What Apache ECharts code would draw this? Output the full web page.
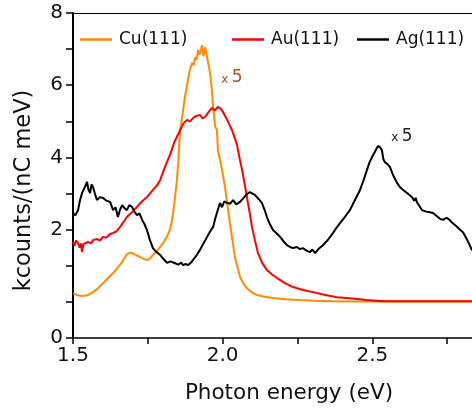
<!DOCTYPE html>
<html>
<head>
<meta charset="utf-8">
<script src="https://cdn.jsdelivr.net/npm/echarts@6/dist/echarts.min.js"></script>
<style>
  html, body { margin: 0; padding: 0; background: #fff; }
  #chart { width: 472px; height: 409px; }
</style>
</head>
<body>
<div id="chart"></div>
<script>
// Photon emission spectra, [photon energy (eV), kcounts/(nC meV)]
const cuSpectrum = [
  [1.500, 0.24], [1.517, 0.18], [1.533, 0.16], [1.550, 0.19], [1.567, 0.27], [1.584, 0.38],
  [1.600, 0.52], [1.617, 0.66], [1.634, 0.80], [1.650, 0.95], [1.664, 1.10], [1.680, 1.32],
  [1.690, 1.36], [1.697, 1.35], [1.710, 1.30], [1.724, 1.24], [1.736, 1.19], [1.747, 1.16],
  [1.757, 1.20], [1.767, 1.30], [1.780, 1.40], [1.791, 1.52], [1.803, 1.65], [1.814, 1.80],
  [1.824, 2.00], [1.831, 2.27], [1.836, 2.55], [1.841, 2.90], [1.847, 3.37], [1.852, 3.90],
  [1.858, 4.76], [1.866, 5.20], [1.874, 5.67], [1.880, 5.95], [1.884, 6.14], [1.890, 6.40],
  [1.898, 6.62], [1.903, 6.55], [1.908, 6.78], [1.913, 6.70], [1.918, 6.98], [1.924, 6.85],
  [1.931, 7.11], [1.936, 6.80], [1.941, 7.05], [1.948, 6.78], [1.953, 6.55], [1.958, 6.34],
  [1.964, 5.87], [1.968, 5.40], [1.975, 4.85], [1.981, 4.76], [1.984, 4.20], [1.991, 3.95],
  [1.998, 3.65], [2.008, 3.18], [2.018, 2.54], [2.031, 1.80], [2.041, 1.24], [2.050, 0.95],
  [2.058, 0.69], [2.070, 0.50], [2.081, 0.38], [2.098, 0.26], [2.115, 0.19], [2.140, 0.14],
  [2.168, 0.11], [2.210, 0.07], [2.258, 0.05], [2.310, 0.03], [2.369, 0.02], [2.450, 0.01],
  [2.550, 0.01], [2.650, 0.01], [2.750, 0.01], [2.833, 0.01]
];

const auSpectrum = [
  [1.500, 1.66], [1.505, 1.55], [1.510, 1.70], [1.517, 1.63], [1.522, 1.50], [1.527, 1.62],
  [1.530, 1.38], [1.535, 1.60], [1.540, 1.57], [1.550, 1.66], [1.560, 1.62], [1.567, 1.71],
  [1.580, 1.74], [1.590, 1.70], [1.600, 1.80], [1.612, 1.78], [1.624, 1.88], [1.634, 1.91],
  [1.645, 1.95], [1.657, 2.07], [1.668, 2.20], [1.680, 2.35], [1.697, 2.48], [1.714, 2.63],
  [1.730, 2.78], [1.747, 2.90], [1.757, 3.00], [1.767, 3.10], [1.780, 3.22], [1.791, 3.37],
  [1.808, 3.75], [1.824, 4.07], [1.840, 4.45], [1.858, 4.76], [1.870, 4.95], [1.881, 5.04],
  [1.891, 5.00], [1.901, 5.09], [1.912, 5.15], [1.924, 5.18], [1.933, 5.08], [1.941, 5.12],
  [1.952, 5.25], [1.964, 5.37], [1.974, 5.30], [1.984, 5.40], [1.993, 5.35], [2.001, 5.26],
  [2.008, 5.15], [2.015, 5.04], [2.023, 4.90], [2.031, 4.76], [2.040, 4.55], [2.048, 4.34],
  [2.056, 4.00], [2.065, 3.65], [2.073, 3.28], [2.081, 2.90], [2.090, 2.48], [2.098, 2.07],
  [2.108, 1.70], [2.118, 1.35], [2.132, 1.08], [2.148, 0.88], [2.165, 0.76], [2.182, 0.66],
  [2.208, 0.52], [2.235, 0.41], [2.268, 0.33], [2.302, 0.27], [2.340, 0.20], [2.382, 0.13],
  [2.425, 0.10], [2.480, 0.05], [2.536, 0.02], [2.600, 0.02], [2.700, 0.02], [2.833, 0.02]
];

const agSpectrum = [
  [1.500, 2.46], [1.508, 2.40], [1.517, 2.54], [1.523, 2.80], [1.530, 3.01], [1.538, 3.15],
  [1.547, 3.32], [1.552, 3.10], [1.557, 3.01], [1.562, 3.25], [1.567, 3.18], [1.573, 3.00],
  [1.580, 2.82], [1.590, 2.90], [1.600, 2.88], [1.612, 2.80], [1.624, 2.77], [1.634, 2.54],
  [1.642, 2.62], [1.650, 2.35], [1.657, 2.55], [1.664, 2.68], [1.672, 2.60], [1.680, 2.54],
  [1.688, 2.68], [1.697, 2.63], [1.705, 2.50], [1.714, 2.40], [1.722, 2.45], [1.731, 2.27],
  [1.739, 2.15], [1.747, 1.99], [1.757, 1.71], [1.767, 1.49], [1.779, 1.38], [1.791, 1.30],
  [1.803, 1.18], [1.814, 1.08], [1.826, 1.12], [1.841, 1.07], [1.852, 1.03], [1.861, 1.09],
  [1.868, 1.02], [1.876, 1.05], [1.884, 1.02], [1.893, 1.08], [1.901, 1.16], [1.912, 1.28],
  [1.924, 1.44], [1.936, 1.62], [1.948, 1.80], [1.958, 1.95], [1.968, 2.07], [1.975, 2.30],
  [1.984, 2.55], [1.991, 2.74], [1.998, 2.62], [2.005, 2.78], [2.015, 2.74], [2.025, 2.72],
  [2.035, 2.82], [2.045, 2.70], [2.058, 2.77], [2.070, 2.88], [2.081, 2.98], [2.091, 3.04],
  [2.100, 3.00], [2.108, 2.96], [2.120, 2.85], [2.131, 2.74], [2.140, 2.55], [2.148, 2.35],
  [2.158, 2.15], [2.168, 1.99], [2.180, 1.90], [2.192, 1.80], [2.203, 1.68], [2.215, 1.57],
  [2.225, 1.52], [2.235, 1.49], [2.248, 1.52], [2.258, 1.46], [2.268, 1.49], [2.280, 1.42],
  [2.292, 1.38], [2.300, 1.45], [2.309, 1.35], [2.322, 1.48], [2.335, 1.57], [2.352, 1.72],
  [2.369, 1.91], [2.380, 2.05], [2.392, 2.18], [2.408, 2.35], [2.425, 2.54], [2.442, 2.82],
  [2.459, 3.10], [2.470, 3.35], [2.482, 3.65], [2.490, 3.85], [2.499, 4.01], [2.510, 4.18],
  [2.519, 4.32], [2.526, 4.28], [2.532, 4.20], [2.537, 3.95], [2.542, 3.87], [2.550, 3.82],
  [2.559, 3.73], [2.570, 3.50], [2.583, 3.29], [2.592, 3.18], [2.603, 3.10], [2.618, 3.00],
  [2.633, 2.90], [2.640, 2.80], [2.645, 2.88], [2.649, 2.76], [2.658, 2.65], [2.666, 2.54],
  [2.680, 2.50], [2.692, 2.48], [2.703, 2.46], [2.715, 2.38], [2.726, 2.30], [2.736, 2.27],
  [2.748, 2.33], [2.757, 2.28], [2.766, 2.20], [2.780, 2.10], [2.793, 2.00], [2.803, 1.93],
  [2.815, 1.75], [2.825, 1.58], [2.833, 1.43]
];

// Series names and colours
const seriesNames = ['Cu(111)', 'Au(111)', 'Ag(111)'];
const seriesColors = ['#ff8c00', '#ff0000', '#000000'];

// Scale-factor notes, anchored in data coordinates
const cuScaleNote = [2.031, 6.2];
const agScaleNote = [2.599, 4.57];

// Axis ranges and labelled ticks
const xRange = [1.5, 2.833];
const xLabelValues = [1.5, 2.0, 2.5];
const yRange = [-1, 8];
const yLabelValues = [-1, 2, 4, 6, 8];
const yLabelTexts = ['0', '2', '4', '6', '8'];

const FONT = 'DejaVu Sans';
const chart = echarts.init(document.getElementById('chart'), null, { renderer: 'canvas' });

function scaleNote(coord, color) {
  return {
    symbol: 'circle',
    symbolSize: 0,
    silent: true,
    data: [{ coord: coord }],
    label: {
      show: true,
      position: 'inside',
      formatter: '{x|x} {n|5}',
      rich: {
        x: { fontFamily: FONT, fontSize: 12, color: color, verticalAlign: 'bottom', padding: [0, 0, 1, 0] },
        n: { fontFamily: FONT, fontSize: 17, color: color, verticalAlign: 'bottom' }
      }
    }
  };
}

const spectra = [cuSpectrum, auSpectrum, agSpectrum];
const notes = [scaleNote(cuScaleNote, '#a0522d'), null, scaleNote(agScaleNote, '#222222')];

const legendLeft = [80, 232, 357];

const option = {
  animation: false,
  backgroundColor: '#ffffff',
  grid: { left: 73, top: 13, right: 0, bottom: 71, containLabel: false },
  legend: seriesNames.map((name, i) => ({
    data: [name],
    left: legendLeft[i],
    top: 31,
    icon: 'rect',
    itemWidth: 32,
    itemHeight: 2.5,
    itemGap: 0,
    padding: 0,
    selectedMode: false,
    textStyle: { fontFamily: FONT, fontSize: 17, color: '#111', padding: [0, 0, 0, 2] }
  })),
  xAxis: [{
    type: 'value',
    min: xRange[0],
    max: xRange[1],
    interval: 0.25,
    name: 'Photon energy (eV)',
    nameLocation: 'middle',
    nameGap: 44,
    nameTextStyle: { fontFamily: FONT, fontSize: 21.5, color: '#111', padding: [0, 0, 0, 33] },
    axisLine: { show: true, onZero: false, lineStyle: { color: '#000', width: 1.5 } },
    axisTick: { show: true, inside: false, length: 6, lineStyle: { color: '#000', width: 1.5 } },
    axisLabel: {
      fontFamily: FONT, fontSize: 20, color: '#111', margin: 8, showMaxLabel: false,
      formatter: v => xLabelValues.some(t => Math.abs(t - v) < 1e-6) ? v.toFixed(1) : ''
    },
    splitLine: { show: false }
  }, {
    type: 'value',
    position: 'top',
    min: xRange[0],
    max: xRange[1],
    axisLine: { show: true, onZero: false, lineStyle: { color: '#000', width: 1.2 } },
    axisTick: { show: false },
    axisLabel: { show: false },
    splitLine: { show: false }
  }],
  yAxis: {
    type: 'value',
    min: yRange[0],
    max: yRange[1],
    interval: 1,
    name: 'kcounts/(nC meV)',
    nameLocation: 'middle',
    nameGap: 37,
    nameRotate: 90,
    nameTextStyle: { fontFamily: FONT, fontSize: 22.5, color: '#111', padding: [0, 30, 0, 0] },
    axisLine: { show: true, onZero: false, lineStyle: { color: '#000', width: 2 } },
    axisTick: { show: true, inside: false, length: 7, lineStyle: { color: '#000', width: 1.5 } },
    axisLabel: {
      fontFamily: FONT, fontSize: 20, color: '#111', margin: 10,
      formatter: v => {
        const i = yLabelValues.findIndex(t => Math.abs(t - v) < 1e-6);
        return i >= 0 ? yLabelTexts[i] : '';
      }
    },
    splitLine: { show: false }
  },
  series: spectra.map((data, i) => {
    const s = {
      name: seriesNames[i],
      type: 'line',
      data: data,
      showSymbol: false,
      symbol: 'none',
      clip: true,
      lineStyle: { color: seriesColors[i], width: 2 },
      itemStyle: { color: seriesColors[i] },
      z: 2 + i
    };
    if (notes[i]) s.markPoint = notes[i];
    return s;
  })
};

chart.setOption(option);
</script>
</body>
</html>
